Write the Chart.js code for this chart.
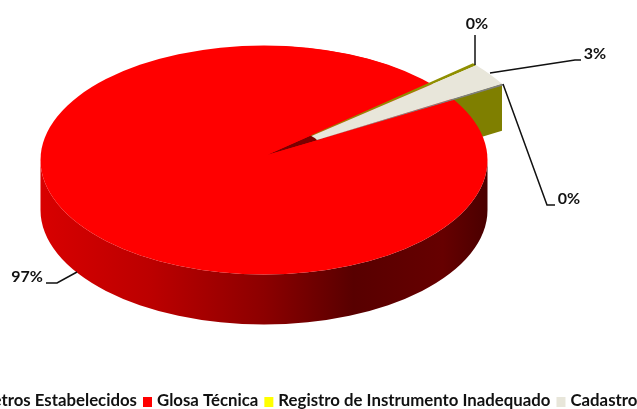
<!DOCTYPE html>
<html>
<head>
<meta charset="utf-8">
<style>
  html, body { margin: 0; padding: 0; background: #fff; overflow: hidden; }
  canvas { display: block; }
</style>
<script src="https://cdn.jsdelivr.net/npm/chart.js@4/dist/chart.umd.min.js"></script>
</head>
<body>
<canvas id="piechart" width="637" height="409"></canvas>
<script>
const categories = ['Parâmetros Estabelecidos', 'Glosa Técnica', 'Registro de Instrumento Inadequado', 'Cadastro'];
const seriesValues = [0.2, 96.9, 0.3, 2.6]; // percent
const sliceColors = ['#7f7f7f', '#ff0000', '#8f8f00', '#e8e6da'];
const legendColors = ['#7f7f7f', '#ff0000', '#ffff00', '#e8e6da'];

const squash = 0.512;      // height / width of the top ellipse
const depth = 50;          // thickness of the pie in px
const apexShift = [3, -5]; // perspective moves the tip away from the ellipse centre
const redRadius = 213;
const smallOuter = 273;
const smallInner = 58;

// leader lines and label spots, one per slice
const leaders = [
  { text: [569, 199], line: [[503, 84], [547, 205], [555, 205]] },
  { text: [27, 277], line: [[77, 272], [57, 283], [46, 283]] },
  { text: [477, 24], line: [[475, 65], [475, 35]] },
  { text: [595, 54], line: [[490, 73], [575, 60], [581, 60]] }
];

let rim = null;

const pie3d = {
  id: 'pie3d',
  afterDatasetsUpdate(chart) {
    chart.getDatasetMeta(0).data.forEach((arc, i) => {
      if (!rim) rim = { x: arc.x, y: arc.y, r: arc.outerRadius };
      arc.x = rim.x + apexShift[0];
      arc.y = rim.y + apexShift[1] / squash;
      arc.outerRadius = i === 1 ? redRadius : smallOuter;
      arc.innerRadius = i === 1 ? 0 : smallInner;
    });
  },
  beforeDatasetsDraw(chart) {
    const ctx = chart.ctx;
    const arcs = chart.getDatasetMeta(0).data;
    const sy = y => rim.y + (y - rim.y) * squash;
    const at = (arc, angle, r) => [arc.x + Math.cos(angle) * r, sy(arc.y + Math.sin(angle) * r)];

    // olive cut face behind the pie
    const tip = at(arcs[3], arcs[3].endAngle, smallOuter);
    const base = at(arcs[3], arcs[3].endAngle, 0);
    ctx.fillStyle = '#7f7f00';
    ctx.beginPath();
    ctx.moveTo(base[0], base[1]);
    ctx.lineTo(tip[0], tip[1]);
    ctx.lineTo(tip[0], tip[1] + 47);
    ctx.lineTo(base[0], base[1] + 47);
    ctx.closePath();
    ctx.fill();

    // outer rim of the red slice
    const grad = ctx.createLinearGradient(rim.x - rim.r, 0, rim.x + rim.r, 0);
    grad.addColorStop(0, '#d80000');
    grad.addColorStop(0.25, '#bb0000');
    grad.addColorStop(0.5, '#8c0000');
    grad.addColorStop(0.7, '#580000');
    grad.addColorStop(0.9, '#660000');
    grad.addColorStop(1, '#4a0000');
    ctx.fillStyle = grad;
    ctx.beginPath();
    ctx.ellipse(rim.x, rim.y, rim.r, rim.r * squash, 0, 0, Math.PI);
    ctx.ellipse(rim.x, rim.y + depth, rim.r, rim.r * squash, 0, Math.PI, 0, true);
    ctx.closePath();
    ctx.fill();

    // top of the pie
    ctx.fillStyle = '#ff0000';
    ctx.beginPath();
    ctx.ellipse(rim.x, rim.y, rim.r, rim.r * squash, 0, 0, Math.PI * 2);
    ctx.fill();

    // dark wall where the slices are pulled out
    const a = at(arcs[2], arcs[2].startAngle, smallInner + 4);
    const b = at(arcs[0], arcs[0].endAngle, smallInner + 4);
    ctx.fillStyle = '#7a0000';
    ctx.beginPath();
    ctx.moveTo(base[0], base[1]);
    ctx.lineTo(a[0], a[1]);
    ctx.lineTo(b[0], b[1]);
    ctx.closePath();
    ctx.fill();

    // the library arcs get drawn flattened
    ctx.save();
    ctx.translate(0, rim.y);
    ctx.scale(1, squash);
    ctx.translate(0, -rim.y);
  },
  afterDatasetsDraw(chart) {
    chart.ctx.restore();
  },
  afterDraw(chart) {
    const ctx = chart.ctx;
    const total = seriesValues.reduce((a, b) => a + b, 0);
    ctx.save();
    ctx.font = 'bold 16px Lato';
    ctx.fillStyle = '#111';
    ctx.strokeStyle = '#111';
    ctx.lineWidth = 1.5;
    ctx.textAlign = 'center';
    ctx.textBaseline = 'middle';
    leaders.forEach((l, i) => {
      ctx.fillText(Math.round(seriesValues[i] / total * 100) + '%', l.text[0], l.text[1]);
      ctx.beginPath();
      l.line.forEach((p, j) => j ? ctx.lineTo(p[0], p[1]) : ctx.moveTo(p[0], p[1]));
      ctx.stroke();
    });

    // legend stays on one row and runs off both sides
    ctx.font = 'bold 16.8px Lato';
    ctx.textAlign = 'left';
    ctx.textBaseline = 'alphabetic';
    let x = 143 - 14 - ctx.measureText(categories[0]).width - 6;
    categories.forEach((name, i) => {
      ctx.fillStyle = legendColors[i];
      ctx.fillRect(x, 397, 9, 10);
      x += 14;
      ctx.fillStyle = '#111';
      ctx.fillText(name, x, 406);
      x += ctx.measureText(name).width + 6;
    });
    ctx.restore();
  }
};

new Chart(document.getElementById('piechart').getContext('2d'), {
  type: 'pie',
  data: {
    labels: categories,
    datasets: [{
      data: seriesValues,
      backgroundColor: sliceColors,
      borderWidth: 0,
      clip: false
    }]
  },
  plugins: [pie3d],
  options: {
    responsive: false,
    animation: false,
    rotation: 59.4,
    radius: 223.5,
    layout: { padding: { left: 0, right: 109, top: 0, bottom: 89 } },
    plugins: { legend: { display: false }, tooltip: { enabled: false } }
  }
});
</script>
</body>
</html>
